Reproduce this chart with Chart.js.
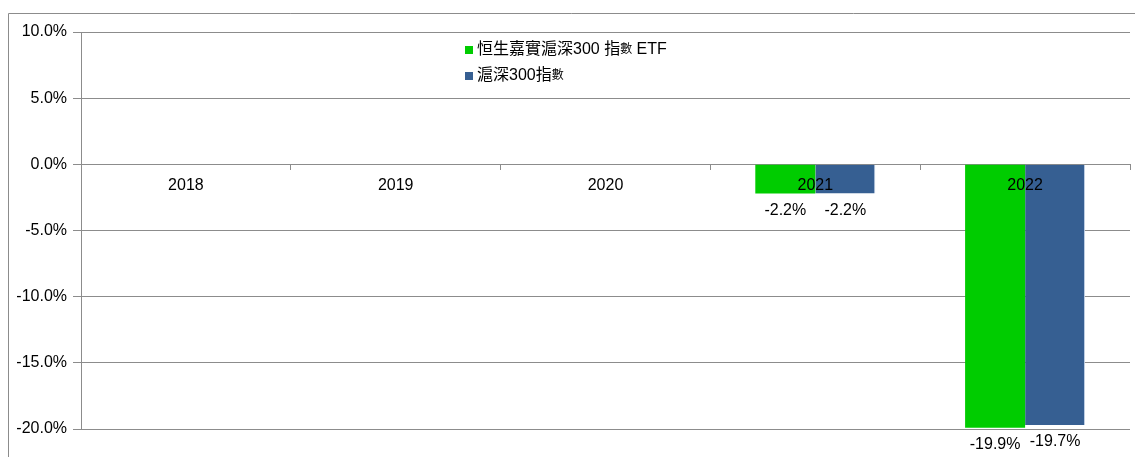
<!DOCTYPE html>
<html>
<head>
<meta charset="utf-8">
<script src="https://cdn.jsdelivr.net/npm/chart.js@4.4.1/dist/chart.umd.min.js"></script>
<style>
  html, body { margin:0; padding:0; background:#fff; }
  #wrap { width:1135px; height:457px; position:relative; }
</style>
</head>
<body>
<div id="wrap"><canvas id="perfChart" width="1135" height="457"></canvas></div>
<script>
/* ── data ── */
const YEARS = ['2018','2019','2020','2021','2022'];
const ETF_RETURNS   = [null, null, null, -2.2, -19.9];
const INDEX_RETURNS = [null, null, null, -2.2, -19.7];
const SERIES_NAMES  = ['恒生嘉實滬深300 指數 ETF', '滬深300指數'];

const FONT = '"Liberation Sans", Arial, "Noto Sans CJK TC", sans-serif';
const GREEN = '#00CC00', BLUE = '#365F92', LINE = '#8c8c8c';

/* ── outer frame ── */
const framePlugin = {
  id:'frame',
  beforeDraw(chart) {
    const c = chart.ctx;
    c.save();
    c.strokeStyle = LINE; c.lineWidth = 1;
    c.beginPath();
    c.moveTo(8.5, chart.height); c.lineTo(8.5, 13.5); c.lineTo(chart.width, 13.5);
    c.stroke();
    c.restore();
  }
};

/* ── value labels under bar ends ── */
const valueLabels = {
  id:'valueLabels',
  afterDatasetsDraw(chart) {
    const c = chart.ctx;
    c.save();
    c.font = '16px ' + FONT; c.fillStyle = '#000';
    c.textAlign = 'center'; c.textBaseline = 'middle';
    chart.data.datasets.forEach((ds, i) => {
      chart.getDatasetMeta(i).data.forEach((bar, j) => {
        const v = ds.data[j];
        if (v == null) return;
        c.fillText(v.toFixed(1) + '%', bar.x, bar.y + 17);
      });
    });
    c.restore();
  }
};

/* ── legend in the plot (the "數" glyph comes out smaller in the original) ── */
function drawMixed(c, text, x, y) {
  for (const ch of text) {
    c.font = (ch === '數' ? '12px ' : '16px ') + FONT;
    c.fillText(ch, x, y);
    x += c.measureText(ch).width;
  }
}
const innerLegend = {
  id:'innerLegend',
  afterDraw(chart) {
    const c = chart.ctx;
    c.save();
    c.textBaseline = 'middle'; c.textAlign = 'left';
    chart.data.datasets.forEach((ds, i) => {
      const y = 50 + i * 26;
      c.fillStyle = ds.backgroundColor;
      c.fillRect(465, y - 4, 8, 8);
      c.fillStyle = '#000';
      drawMixed(c, ds.label, 477, y);
    });
    c.restore();
  }
};

const ctx = document.getElementById('perfChart').getContext('2d');
new Chart(ctx, {
  type:'bar',
  data:{
    labels: YEARS,
    datasets:[
      { label:SERIES_NAMES[0], data:ETF_RETURNS,   backgroundColor:GREEN, borderWidth:0 },
      { label:SERIES_NAMES[1], data:INDEX_RETURNS, backgroundColor:BLUE,  borderColor:'#c9d6ea', borderWidth:{right:1}, borderSkipped:false }
    ]
  },
  options:{
    responsive:false, animation:false,
    layout:{ padding:{ left:0, top:32, right:5, bottom:28 } },
    datasets:{ bar:{ categoryPercentage:0.572, barPercentage:1.0 } },
    plugins:{ legend:{ display:false }, tooltip:{ enabled:false } },
    scales:{
      x:{
        position:{ y:0 },
        grid:{ drawOnChartArea:false, drawTicks:true, tickLength:5, color:LINE, offset:true },
        border:{ display:true, color:LINE },
        ticks:{ z:1, color:'#000', font:{ family:FONT, size:16 }, padding:7 }
      },
      y:{
        min:-20, max:10,
        afterFit(s){ s.width = 81; },
        grid:{ color:LINE, tickLength:8 },
        border:{ display:true, color:LINE },
        ticks:{ stepSize:5, color:'#000', font:{ family:FONT, size:16 }, padding:6, callback:v => v.toFixed(1) + '%' }
      }
    }
  },
  plugins:[framePlugin, valueLabels, innerLegend]
});
</script>
</body>
</html>
